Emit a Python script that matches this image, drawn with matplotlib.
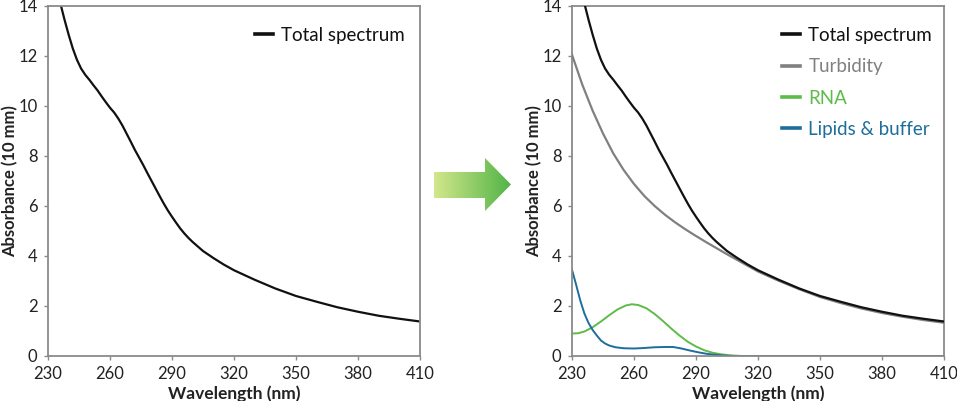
"""Absorbance spectrum of a turbid sample, before and after decomposition."""

import matplotlib
matplotlib.use("Agg")
import matplotlib.pyplot as plt
import numpy as np
from matplotlib.colors import LinearSegmentedColormap
from matplotlib.patches import Polygon

plt.rcParams["font.family"] = ["Lato", "DejaVu Sans"]

# --- Data -----------------------------------------------------------------
TOTAL_WL = [234, 236, 238, 240, 242, 244, 246, 248, 250, 252, 254, 256, 258,
            260, 262, 264, 266, 268, 270, 272, 274, 276, 278, 280, 282, 284,
            286, 288, 290, 292, 294, 296, 298, 300, 305, 310, 315, 320, 330,
            340, 350, 360, 370, 380, 390, 400, 410]
TOTAL_ABS = [14.8, 14.1, 13.45, 12.85, 12.3, 11.85, 11.5, 11.25, 11.05, 10.83,
             10.62, 10.38, 10.15, 9.93, 9.74, 9.5, 9.22, 8.9, 8.58, 8.25, 7.95,
             7.65, 7.33, 7.02, 6.71, 6.4, 6.1, 5.82, 5.57, 5.33, 5.1, 4.9, 4.72,
             4.56, 4.2, 3.92, 3.66, 3.43, 3.05, 2.7, 2.4, 2.17, 1.95, 1.77,
             1.61, 1.49, 1.38]

TURB_WL = [230, 235, 240, 245, 250, 255, 260, 265, 270, 275, 280, 285, 290,
           295, 300, 305, 310, 315, 320, 330, 340, 350, 360, 370, 380, 390,
           400, 410]
TURB_ABS = [12.05, 10.85, 9.81, 8.9, 8.1, 7.44, 6.88, 6.4, 6.0, 5.65, 5.34,
            5.06, 4.8, 4.55, 4.31, 4.07, 3.84, 3.61, 3.38, 3.01, 2.67, 2.36,
            2.12, 1.9, 1.72, 1.57, 1.44, 1.33]

RNA_WL = [230, 233, 236, 240, 244, 248, 252, 256, 259, 262, 266, 270, 274,
          278, 282, 286, 290, 294, 298, 302, 306, 312, 410]
RNA_ABS = [0.9, 0.91, 0.98, 1.15, 1.38, 1.63, 1.86, 2.02, 2.07, 2.04, 1.91,
           1.68, 1.4, 1.1, 0.82, 0.57, 0.38, 0.23, 0.13, 0.07, 0.03, 0.0, 0.0]

LIPID_WL = [230, 232, 234, 236, 238, 240, 242, 244, 246, 248, 251, 255, 260,
            265, 270, 275, 279, 283, 287, 291, 295, 299, 303, 308, 410]
LIPID_ABS = [3.45, 2.85, 2.22, 1.7, 1.32, 1.04, 0.82, 0.62, 0.5, 0.42, 0.35,
             0.31, 0.3, 0.32, 0.35, 0.36, 0.36, 0.3, 0.22, 0.15, 0.09, 0.05,
             0.02, 0.0, 0.0]

X_TICKS = [230, 260, 290, 320, 350, 380, 410]
Y_TICKS = [0, 2, 4, 6, 8, 10, 12, 14]

C_TOTAL = "#111111"
C_TURB = "#808080"
C_RNA = "#5dbb4a"
C_LIPID = "#1d6e9b"
C_SPINE = "#8a8a8a"


def style_axes(ax):
    ax.set_xlim(230, 410)
    ax.set_ylim(0, 14)
    ax.set_xticks(X_TICKS)
    ax.set_yticks(Y_TICKS)
    for sp in ax.spines.values():
        sp.set_color(C_SPINE)
        sp.set_linewidth(1.3)
    ax.tick_params(direction="out", length=3, width=1, color=C_SPINE,
                   labelsize=12, pad=4.5, labelcolor="#222222")
    ax.set_xlabel("Wavelength (nm)", fontsize=12.5, fontweight="bold",
                  color="#222222")
    ax.set_ylabel("Absorbance (10 mm)", fontsize=12, fontweight="bold",
                  color="#222222")
    ax.xaxis.set_label_coords(0.5, -0.085)
    ax.yaxis.set_label_coords(-0.08, 0.5)


def add_legend(ax, x0):
    leg = ax.legend(loc="upper left", bbox_to_anchor=(x0, 0.94),
                    frameon=False, fontsize=13.5, handlelength=0.95,
                    handletextpad=0.45, labelspacing=0.76,
                    labelcolor="linecolor", borderaxespad=0, borderpad=0)
    for line in leg.get_lines():
        line.set_linewidth(2.6)
    return leg


fig = plt.figure(figsize=(9.57, 4.01), dpi=100)
W, H = 957, 401

# left panel: measured spectrum only
ax1 = fig.add_axes([48 / W, 1 - 356 / H, 372 / W, 350 / H])
ax1.plot(TOTAL_WL, TOTAL_ABS, color=C_TOTAL, lw=1.6, label="Total spectrum")
style_axes(ax1)
add_legend(ax1, 0.556)

# right panel: decomposition
ax2 = fig.add_axes([572 / W, 1 - 356 / H, 372 / W, 350 / H])
ax2.plot(TOTAL_WL, TOTAL_ABS, color=C_TOTAL, lw=1.6, label="Total spectrum",
         zorder=4)
ax2.plot(TURB_WL, TURB_ABS, color=C_TURB, lw=1.6, label="Turbidity", zorder=3)
ax2.plot(RNA_WL, RNA_ABS, color=C_RNA, lw=1.4, label="RNA", zorder=2)
ax2.plot(LIPID_WL, LIPID_ABS, color=C_LIPID, lw=1.4, label="Lipids & buffer",
         zorder=2)
style_axes(ax2)
add_legend(ax2, 0.565)

# gradient arrow between the two panels (pixel coords on an overlay)
ov = fig.add_axes([0, 0, 1, 1], zorder=-1)
ov.set_xlim(0, W)
ov.set_ylim(H, 0)
ov.axis("off")
cmap = LinearSegmentedColormap.from_list("arrow", ["#d3e78c", "#52b447"])
grad = np.linspace(0, 1, 256).reshape(1, -1)
im = ov.imshow(grad, cmap=cmap, aspect="auto",
               extent=(434, 511, 211, 158), interpolation="bilinear")
arrow = Polygon([(434, 172), (485, 172), (485, 158), (511, 184.5),
                 (485, 211), (485, 198), (434, 198)], closed=True,
                facecolor="none", edgecolor="none", transform=ov.transData)
ov.add_patch(arrow)
im.set_clip_path(arrow)

fig.savefig("out.png", dpi=100)
